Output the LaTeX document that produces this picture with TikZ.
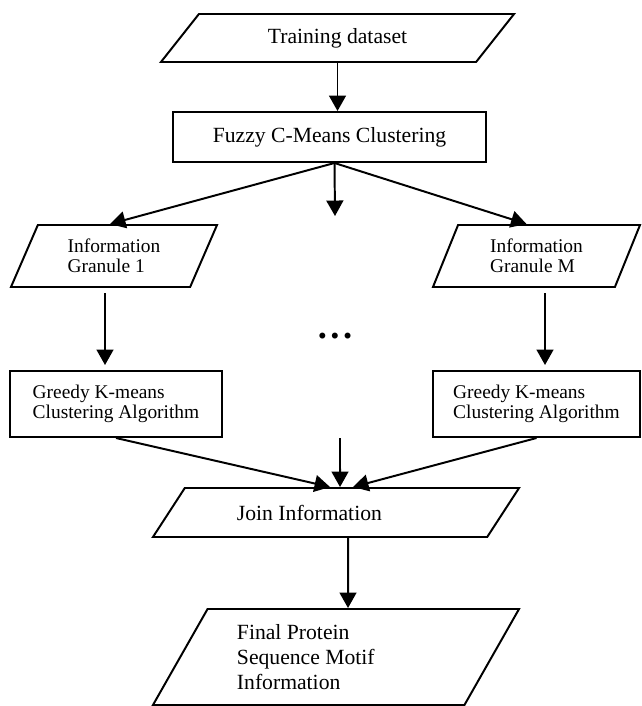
\documentclass[tikz,border=0pt]{standalone}
\usepackage{fontspec}
\setmainfont{Liberation Serif}
\usetikzlibrary{arrows.meta, positioning, shapes.geometric, calc}

\newcommand{\bigfont}{\fontsize{15.4}{17.8}\selectfont}
\newcommand{\smallfont}{\fontsize{13.8}{14.5}\selectfont}

\begin{document}
\begin{tikzpicture}[x=0.025cm, y=-0.025cm,
  data/.style={trapezium, draw, line width=1.4pt, trapezium stretches body, inner sep=2pt, font=\bigfont},
  proc/.style={rectangle, draw, line width=1.4pt, inner sep=2pt, font=\bigfont},
  flow/.style={->, line width=1.4pt},
  >={Triangle[length=11pt, width=12pt]}
]
  \useasboundingbox (0,0) rectangle (641,706);

  \node[data, trapezium left angle=33.7, trapezium right angle=146.3, minimum width=8.825cm, minimum height=1.2cm] (train) at (337.5,38) {Training dataset};
  \node[proc, minimum width=7.825cm, minimum height=1.25cm] (fuzzy) at (329.5,137) {Fuzzy C-Means Clustering};
  \node[data, trapezium left angle=56, trapezium right angle=124, minimum width=5.15cm, minimum height=1.55cm, font=\smallfont, align=left] (info1) at (114,256) {Information\\Granule 1};
  \node[data, trapezium left angle=57.8, trapezium right angle=122.2, minimum width=5.175cm, minimum height=1.55cm, font=\smallfont, align=left] (infoM) at (536.5,256) {Information\\Granule M};
  \node[font=\fontsize{26}{26}\selectfont] (dots) at (335,336) {\bfseries .\hspace{2.5pt}.\hspace{2.5pt}.};
  \node[proc, minimum width=5.3cm, minimum height=1.65cm, font=\smallfont, align=left] (greedy1) at (116,404) {Greedy K-means\\Clustering Algorithm};
  \node[proc, minimum width=5.175cm, minimum height=1.65cm, font=\smallfont, align=left] (greedyM) at (536.5,404) {Greedy K-means\\Clustering Algorithm};
  \node[data, trapezium left angle=33.5, trapezium right angle=146.5, minimum width=9.15cm, minimum height=1.225cm, text width=4.95cm, align=flush left] (join) at (336,512.5) {Join Information};
  \node[data, trapezium left angle=52.4, trapezium right angle=127.6, minimum width=9.15cm, minimum height=2.4cm, text width=4.95cm, align=flush left] (final) at (336,657) {Final Protein\\Sequence Motif\\Information};

  \coordinate (gap) at (335,216);
  \coordinate (merge) at (340,438);

  % top part
  \draw[flow] (train.south) -- (train.south |- fuzzy.north);
  \draw[flow] ($(fuzzy.south)+(5,0)$) -- ($(info1.north)+(-4,0)$);
  \draw[flow] ($(fuzzy.south)+(5,0)$) -- (gap);
  \draw[flow] ($(fuzzy.south)+(5,0)$) -- ($(infoM.north)+(-10,0)$);

  % granules
  \draw[flow] ($(info1.south)+(-9,5)$) -- ($(info1.south |- greedy1.north)+(-9,-5)$);
  \draw[flow] ($(infoM.south)+(8.5,5)$) -- ($(infoM.south |- greedyM.north)+(8.5,-5)$);

  % joining
  \draw[flow] (greedy1.south) -- ($(join.north)+(-6,0)$);
  \draw[flow] (merge) -- ($(join.north)+(4,0)$);
  \draw[flow] (greedyM.south) -- ($(join.north)+(17,0)$);
  \draw[flow] ($(join.south)+(12,0)$) -- ($(final.north)+(12,0)$);
\end{tikzpicture}
\end{document}
